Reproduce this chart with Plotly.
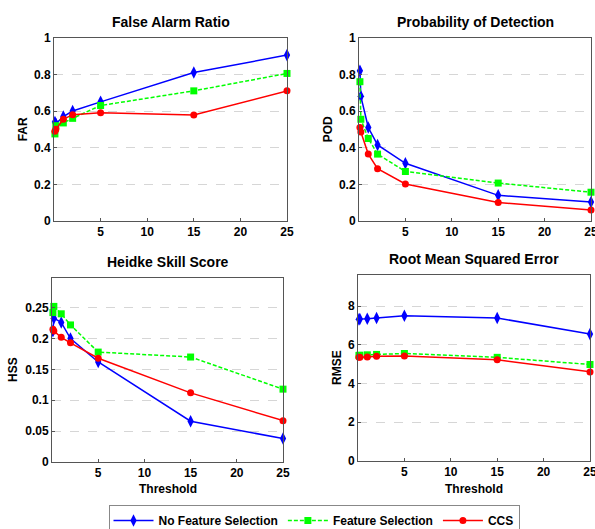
import plotly.graph_objects as go

thresholds = [0.1, 0.2, 1, 2, 5, 15, 25]

far_nofs = [0.54, 0.53, 0.57, 0.60, 0.65, 0.81, 0.905]
far_fs = [0.475, 0.52, 0.535, 0.56, 0.63, 0.71, 0.805]
far_ccs = [0.49, 0.50, 0.555, 0.58, 0.59, 0.578, 0.71]

pod_nofs = [0.82, 0.68, 0.51, 0.415, 0.315, 0.14, 0.103]
pod_fs = [0.76, 0.555, 0.45, 0.365, 0.27, 0.207, 0.157]
pod_ccs = [0.51, 0.485, 0.365, 0.285, 0.202, 0.101, 0.06]

hss_nofs = [0.212, 0.233, 0.226, 0.200, 0.162, 0.066, 0.038]
hss_fs = [0.242, 0.252, 0.240, 0.222, 0.178, 0.170, 0.118]
hss_ccs = [0.215, 0.212, 0.202, 0.193, 0.168, 0.112, 0.067]

rmse_nofs = [7.31, 7.33, 7.34, 7.38, 7.50, 7.38, 6.55]
rmse_fs = [5.45, 5.46, 5.48, 5.50, 5.55, 5.35, 4.98]
rmse_ccs = [5.35, 5.35, 5.37, 5.40, 5.42, 5.22, 4.60]

series_names = ["No Feature Selection", "Feature Selection", "CCS"]
titles = ["False Alarm Ratio", "Probability of Detection", "Heidke Skill Score", "Root Mean Squared Error"]
ylabels = ["FAR", "POD", "HSS", "RMSE"]

W, H = 595, 529
FONT = "Arial, Liberation Sans, sans-serif"

# panel boxes in pixels: (left, right, top, bottom)
boxes = [(54, 287, 37.7, 221), (359, 591, 37.7, 221), (52, 283, 278, 462), (358, 590, 275, 461)]
ylabel_x = [23, 328, 13, 337]
yranges = [[0, 1], [0, 1], [0, 0.298], [0, 9.6]]
ytickvals = [[0, 0.2, 0.4, 0.6, 0.8, 1], [0, 0.2, 0.4, 0.6, 0.8, 1],
             [0, 0.05, 0.1, 0.15, 0.2, 0.25], [0, 2, 4, 6, 8]]
data = [
    (far_nofs, far_fs, far_ccs),
    (pod_nofs, pod_fs, pod_ccs),
    (hss_nofs, hss_fs, hss_ccs),
    (rmse_nofs, rmse_fs, rmse_ccs),
]

styles = [
    dict(color="#0000FF", dash="solid", symbol="diamond-tall", size=9),
    dict(color="#00FF00", dash="4px,2px", symbol="square", size=7),
    dict(color="#FF0000", dash="solid", symbol="circle", size=7),
]

fig = go.Figure()
layout = dict(
    width=W, height=H, margin=dict(l=0, r=0, t=0, b=0, autoexpand=False),
    paper_bgcolor="white", plot_bgcolor="white",
    font=dict(family=FONT, size=12, color="black", weight="bold"),
    showlegend=True,
)
annotations = []

for i, (vals, box) in enumerate(zip(data, boxes)):
    ax = "" if i == 0 else str(i + 1)
    l, r, t, b = box
    xd = [l / W, r / W]
    yd = [(H - b) / H, (H - t) / H]
    for j, (name, st) in enumerate(zip(series_names, styles)):
        fig.add_trace(go.Scatter(
            x=thresholds, y=vals[j], name=name, mode="lines+markers",
            xaxis="x" + ax, yaxis="y" + ax,
            line=dict(color=st["color"], width=1.5, dash=st["dash"]),
            marker=dict(symbol=st["symbol"], size=st["size"], color=st["color"],
                        line=dict(width=0)),
            showlegend=(i == 0), legendgroup=name, cliponaxis=False,
        ))
    layout["xaxis" + ax] = dict(
        domain=xd, anchor="y" + ax, range=[0, 25], tickvals=[5, 10, 15, 20, 25],
        showgrid=False, zeroline=False, showline=True, mirror=True,
        linecolor="#555", linewidth=1, ticks="inside", ticklen=3, tickcolor="#555",
        tickfont=dict(size=12, family=FONT, weight="bold"), automargin=False,
        ticklabeloverflow="allow",
    )
    layout["yaxis" + ax] = dict(
        domain=yd, anchor="x" + ax, range=yranges[i], tickvals=ytickvals[i],
        showgrid=True, gridcolor="#d6d6d6", griddash="dash", gridwidth=1,
        zeroline=False, showline=True, mirror=True,
        linecolor="#555", linewidth=1, ticks="inside", ticklen=3, tickcolor="#555",
        tickfont=dict(size=12, family=FONT, weight="bold"), automargin=False,
    )
    # panel title
    annotations.append(dict(
        text=titles[i], x=(l + r) / 2 / W, y=(H - (t - 16)) / H,
        xref="paper", yref="paper", showarrow=False, xanchor="center", yanchor="middle",
        font=dict(size=14, family=FONT, weight="bold"),
    ))
    # y label
    annotations.append(dict(
        text=ylabels[i], x=ylabel_x[i] / W, y=(H - (t + b) / 2) / H,
        xref="paper", yref="paper", showarrow=False, xanchor="center", yanchor="middle",
        textangle=-90, font=dict(size=12, family=FONT, weight="bold"),
    ))
    if i >= 2:
        annotations.append(dict(
            text="Threshold", x=(l + r) / 2 / W, y=(H - 489) / H,
            xref="paper", yref="paper", showarrow=False, xanchor="center", yanchor="middle",
            font=dict(size=12, family=FONT, weight="bold"),
        ))

layout["annotations"] = annotations
layout["legend"] = dict(
    orientation="h", x=314 / W, xanchor="center", y=(H - 505) / H, yanchor="top",
    bordercolor="#888", borderwidth=1, bgcolor="white",
    font=dict(size=12, family=FONT, weight="bold"), itemwidth=40, tracegroupgap=0,
)
fig.update_layout(**layout)
fig.write_html(
    "out.html",
    config={"displayModeBar": False},
    post_script="document.body.style.margin='0px';document.body.style.overflow='hidden';",
)
